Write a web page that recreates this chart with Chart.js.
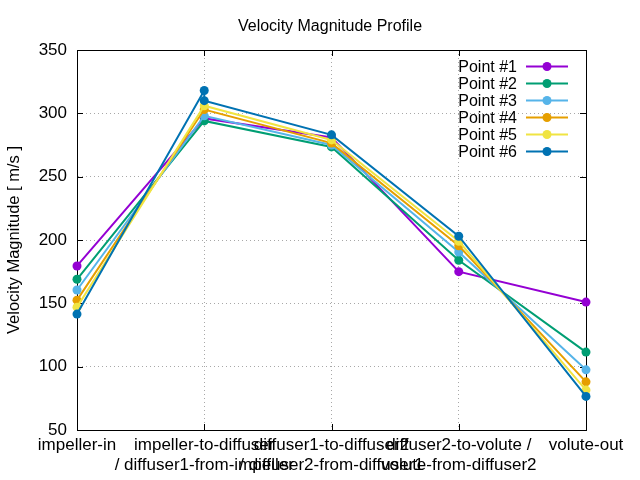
<!DOCTYPE html>
<html>
<head>
<meta charset="utf-8">
<script src="https://cdn.jsdelivr.net/npm/chart.js@4"></script>
<style>
html,body{margin:0;padding:0;background:#fff;}
#wrap{width:640px;height:480px;}
</style>
</head>
<body>
<div id="wrap"><canvas id="c" width="640" height="480"></canvas></div>
<script>
const categories = [
  "impeller-in",
  ["impeller-to-diffuser", "/ diffuser1-from-impeller"],
  ["diffuser1-to-diffuser2", "/ diffuser2-from-diffuser1"],
  ["diffuser2-to-volute /", "volute-from-diffuser2"],
  "volute-out"
];
const seriesNames = ["Point #1", "Point #2", "Point #3", "Point #4", "Point #5", "Point #6"];
// one value per category; a pair means two readings at that station
const point1 = [179.5, 296, 281, 175, 151];
const point2 = [169, 294, 273.5, 184, 111.5];
const point3 = [160.5, 298, 275, 190.5, 97.5];
const point4 = [152.5, 303, 276.5, 195.5, 88];
const point5 = [147, 306, 279, 199, 81.5];
const point6 = [141.5, [318, 310], 283, 203, 76.5];
const yTicks = [50, 100, 150, 200, 250, 300, 350];
const colors = ["#9400d3", "#009e73", "#56b4e9", "#e69f00", "#f0e442", "#0072b2"];

const allSeries = [point1, point2, point3, point4, point5, point6];
const FONT = "'Liberation Sans', Arial, sans-serif";

function toPoints(arr) {
  const out = [];
  arr.forEach((v, i) => {
    (Array.isArray(v) ? v : [v]).forEach(y => out.push({ x: i, y }));
  });
  return out;
}

const datasets = allSeries.map((d, i) => ({
  label: seriesNames[i],
  data: toPoints(d),
  borderColor: colors[i],
  backgroundColor: colors[i],
  pointBackgroundColor: colors[i],
  pointBorderWidth: 0,
  pointRadius: 4.5,
  borderWidth: 2,
  tension: 0,
  clip: false,
  order: seriesNames.length - 1 - i
}));

const framePlugin = {
  id: 'frame',
  beforeDatasetsDraw(chart) {
    const {ctx, chartArea: a, scales} = chart;
    ctx.save();
    ctx.strokeStyle = '#000';
    ctx.lineWidth = 1;
    const tl = 6;
    yTicks.forEach(v => {
      const y = Math.round(scales.y.getPixelForValue(v)) + 0.5;
      ctx.beginPath();
      ctx.moveTo(a.left, y); ctx.lineTo(a.left + tl, y);
      ctx.moveTo(a.right, y); ctx.lineTo(a.right - tl, y);
      ctx.stroke();
    });
    categories.forEach((c, i) => {
      const x = Math.round(scales.x.getPixelForValue(i)) + 0.5;
      ctx.beginPath();
      ctx.moveTo(x, a.bottom); ctx.lineTo(x, a.bottom - tl);
      ctx.moveTo(x, a.top); ctx.lineTo(x, a.top + tl);
      ctx.stroke();
    });
    ctx.strokeRect(Math.round(a.left) + 0.5, Math.round(a.top) + 0.5,
                   Math.round(a.right - a.left), Math.round(a.bottom - a.top));
    ctx.fillStyle = '#000';
    ctx.font = "16px " + FONT;
    ctx.textAlign = 'center';
    ctx.textBaseline = 'middle';
    ctx.fillText("Velocity Magnitude Profile", 330, 27);
    ctx.restore();
  },
  afterDatasetsDraw(chart) {
    const {ctx} = chart;
    ctx.save();
    ctx.font = "16px " + FONT;
    ctx.textAlign = 'right';
    ctx.textBaseline = 'middle';
    seriesNames.forEach((n, i) => {
      const y = 66.5 + i * 17;
      ctx.fillStyle = '#000';
      ctx.fillText(n, 517, y + 1);
      ctx.strokeStyle = colors[i];
      ctx.lineWidth = 2;
      ctx.beginPath();
      ctx.moveTo(526, y); ctx.lineTo(568, y);
      ctx.stroke();
      ctx.fillStyle = colors[i];
      ctx.beginPath();
      ctx.arc(547, y, 4.5, 0, Math.PI * 2);
      ctx.fill();
    });
    ctx.restore();
  }
};

new Chart(document.getElementById('c'), {
  type: 'line',
  data: { datasets },
  options: {
    responsive: false,
    animation: false,
    devicePixelRatio: 1,
    layout: { padding: { top: 50, right: 54, left: 0, bottom: 0 } },
    plugins: { legend: { display: false }, title: { display: false }, tooltip: { enabled: false } },
    scales: {
      x: {
        type: 'linear',
        min: 0, max: categories.length - 1,
        afterFit(s) { s.height = 50; },
        afterBuildTicks(s) { s.ticks = categories.map((c, i) => ({ value: i })); },
        grid: { color: '#a8a8a8', lineWidth: 1, drawTicks: false },
        border: { display: true, color: '#000', dash: [1, 3] },
        ticks: {
          color: '#000', font: { family: FONT, size: 17 }, padding: 5,
          maxRotation: 0, minRotation: 0, autoSkip: false,
          callback: (v) => categories[v]
        }
      },
      y: {
        min: 50, max: 350,
        afterFit(s) { s.width = 77; },
        afterBuildTicks(s) { s.ticks = yTicks.map(v => ({ value: v })); },
        grid: { color: '#a8a8a8', lineWidth: 1, drawTicks: false },
        border: { display: true, color: '#000', dash: [1, 3] },
        ticks: { color: '#000', font: { family: FONT, size: 17 }, padding: 10 },
        title: { display: true, text: "Velocity Magnitude [ m/s ]", color: '#000', font: { family: FONT, size: 16.5 }, padding: { top: 5, bottom: 4 } }
      }
    }
  },
  plugins: [framePlugin]
});
</script>
</body>
</html>
